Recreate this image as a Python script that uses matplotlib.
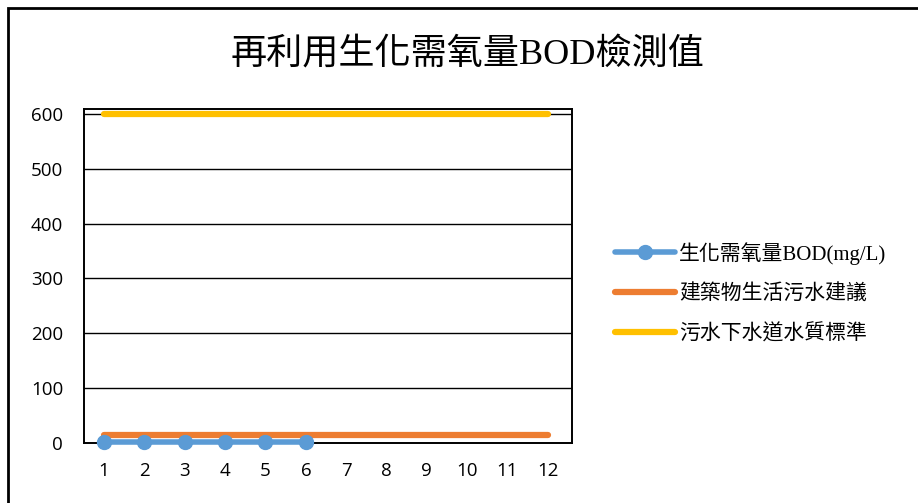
import matplotlib.pyplot as plt
from matplotlib.patches import Rectangle

# data
months = list(range(1, 13))
bod_months = [1, 2, 3, 4, 5, 6]
bod_values = [1.5, 1.5, 1.5, 1.5, 1.5, 1.5]
building_std = [15] * 12
sewer_std = [600] * 12
yticks = [0, 100, 200, 300, 400, 500, 600]

title = '再利用生化需氧量BOD檢測值'
labels = ['生化需氧量BOD(mg/L)', '建築物生活污水建議', '污水下水道水質標準']

cjk = ['Liberation Serif', 'Noto Sans CJK TC']
tick_font = 'Open Sans'

fig = plt.figure(figsize=(9.18, 5.03), dpi=100)
ax = fig.add_axes([84 / 918, 60 / 503, (572 - 84) / 918, (443 - 109) / 503])

ax.plot(bod_months, bod_values, color='#5B9BD5', lw=4, marker='o', ms=10,
        solid_capstyle='round', clip_on=False, zorder=4, label=labels[0])
ax.plot(months, building_std, color='#ED7D31', lw=4.5,
        solid_capstyle='round', zorder=3, label=labels[1])
ax.plot(months, sewer_std, color='#FFC000', lw=4.5,
        solid_capstyle='round', zorder=3, label=labels[2])

ax.set_xlim(0.5, 12.6)
ax.set_ylim(0, 609)
ax.set_xticks(months)
ax.set_yticks(yticks)
ax.tick_params(length=0, labelsize=13.5)
ax.tick_params(axis='y', pad=15)
ax.tick_params(axis='x', pad=14)
for t in ax.get_xticklabels() + ax.get_yticklabels():
    t.set_fontfamily(tick_font)
ax.grid(axis='y', color='black', lw=1)
ax.set_axisbelow(True)
for s in ax.spines.values():
    s.set_color('black')
    s.set_linewidth(1.4)

fig.text(467 / 918, 1 - 55 / 503, title, ha='center', va='center',
         fontsize=26, family=cjk)

leg = fig.legend(loc='center left', bbox_to_anchor=(596 / 918, 1 - 293 / 503),
                 frameon=False, prop={'family': cjk, 'size': 15},
                 handlelength=2.9, handletextpad=0.2, labelspacing=0.95)

# outer chart border
fig.patches.append(Rectangle((8 / 918, -0.1), 1.2, 0.1 + (503 - 8) / 503,
                             transform=fig.transFigure, fill=False,
                             edgecolor='black', lw=2))

fig.savefig('out.png', dpi=100)
